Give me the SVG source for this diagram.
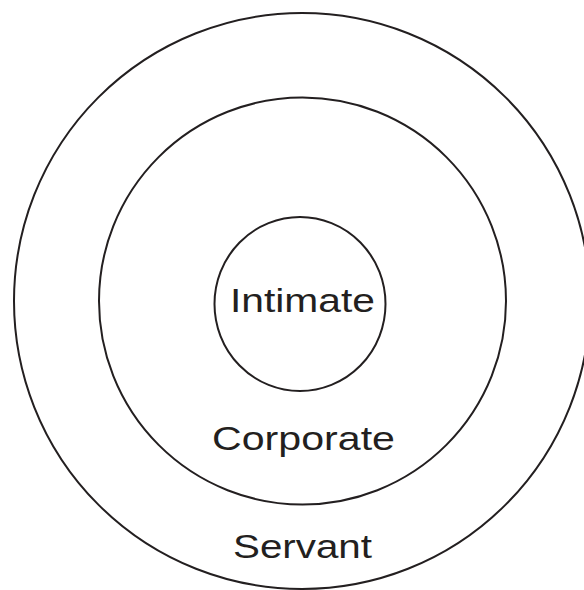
<svg xmlns="http://www.w3.org/2000/svg" width="584" height="590" viewBox="0 0 584 590">
<style>
.ring{fill:none;stroke:#231f20;stroke-width:2}
.lbl{font-family:"Liberation Sans",Arial,sans-serif;font-size:34px;fill:#231f20}
</style>
<rect width="584" height="590" fill="#fff"/>
<g id="servant">
<circle class="ring" cx="302" cy="301" r="288"/>
<text class="lbl" x="233" y="558" textLength="139" lengthAdjust="spacingAndGlyphs">Servant</text>
</g>
<g id="corporate">
<circle class="ring" cx="302.5" cy="301" r="203.5"/>
<text class="lbl" x="212" y="450" textLength="183" lengthAdjust="spacingAndGlyphs">Corporate</text>
</g>
<g id="intimate">
<ellipse class="ring" cx="300" cy="304" rx="85.5" ry="87"/>
<text class="lbl" x="230" y="312" textLength="145" lengthAdjust="spacingAndGlyphs">Intimate</text>
</g>
<g id="connectors"/>
</svg>
